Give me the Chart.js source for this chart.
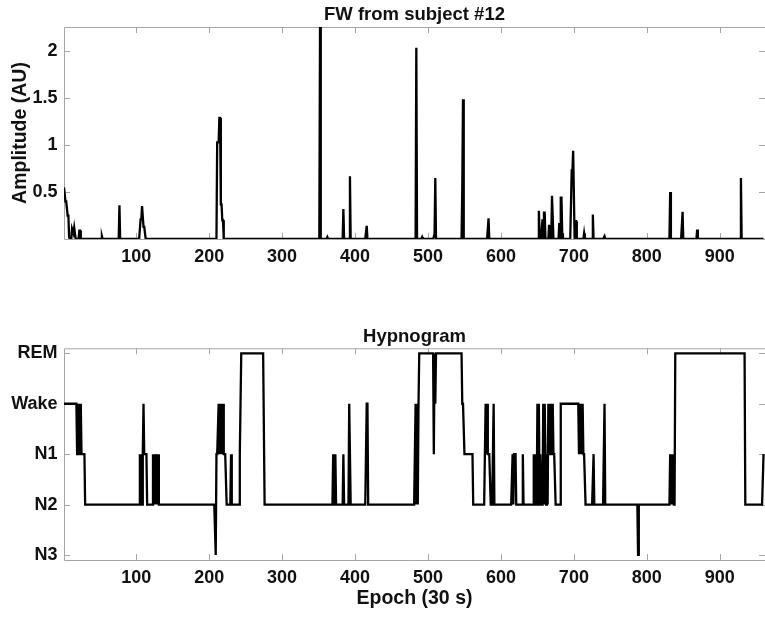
<!DOCTYPE html>
<html>
<head>
<meta charset="utf-8">
<script src="https://cdn.jsdelivr.net/npm/chart.js@4.4.1/dist/chart.umd.min.js"></script>
<style>
  html, body { margin: 0; padding: 0; background: #ffffff; overflow: hidden; }
  .box { position: absolute; left: 0; width: 765px; }
  #wrapTop { top: 0; height: 280px; }
  #wrapBot { top: 300px; height: 320px; }
</style>
</head>
<body>
<div class="box" id="wrapTop"><canvas id="fwChart" width="765" height="280"></canvas></div>
<div class="box" id="wrapBot"><canvas id="hypChart" width="765" height="320"></canvas></div>
<script>
// ---------------- DATA ----------------
const nEpochs = 960;
const xTickValues = [100, 200, 300, 400, 500, 600, 700, 800, 900];

// FW amplitude: epochs with non-zero amplitude and their values (AU); all other epochs are 0
const fwEpochs = [1, 2, 3, 4, 5, 6, 7, 8,
  12, 13, 14, 15, 16, 22, 23, 53, 77,
  106, 107, 108, 109, 110, 111, 112,
  211, 212, 213, 214, 215, 216, 217, 218, 219,
  352, 362, 384, 393, 416, 484, 492, 509, 510, 547, 548, 583,
  652, 653, 657, 659, 660, 666, 667, 670, 671, 680, 682, 683, 684,
  697, 698, 699, 700, 702, 703, 714, 726, 742, 832, 849, 869, 929];
const fwAmps = [0.55, 0.55, 0.40, 0.40, 0.40, 0.25, 0.25, 0.02,
  0.11, 0.11, 0.06, 0.12, 0.12, 0.09, 0.09, 0.03, 0.36,
  0.21, 0.21, 0.35, 0.35, 0.13, 0.13, 0.13,
  1.03, 1.03, 1.03, 1.29, 1.29, 0.37, 0.37, 0.20, 0.20,
  2.26, 0.02, 0.32, 0.67, 0.14, 2.04, 0.02, 0.05, 0.65, 0.55, 1.49, 0.22,
  0.30, 0.05, 0.21, 0.28, 0.28, 0.15, 0.15, 0.46, 0.46, 0.17, 0.44, 0.44, 0.06,
  0.73, 0.73, 0.94, 0.94, 0.19, 0.19, 0.06, 0.26, 0.03, 0.50, 0.29, 0.10, 0.65];
const fwTickValues = [0.5, 1, 1.5, 2];
const fwMax = 2.26;

// Hypnogram: stage codes 1=N3, 2=N2, 3=N1, 4=Wake, 5=REM
const stageLabels = ['N3', 'N2', 'N1', 'Wake', 'REM'];
const stageTickValues = [1, 2, 3, 4, 5];
// run-length: epoch where a stage starts, and that stage
const hypStart = [1, 19, 20, 21, 22, 23, 24, 25, 30,
  105, 106, 107, 108, 109, 110, 111, 115,
  123, 124, 125, 126, 128, 129, 130, 131,
  209, 210, 213, 214, 215, 216, 217, 218, 219, 220, 224, 230, 231, 242, 243, 244, 276,
  370, 371, 373, 374, 384, 385, 392, 394, 416, 418,
  483, 484, 485, 486, 487, 488, 508, 509, 510, 511, 547, 550, 562,
  579, 580, 581, 582, 586, 590, 591, 616, 617, 618, 621, 630, 631,
  645, 646, 647, 648, 650, 651, 652, 653, 654, 655, 658, 659, 660, 661, 662, 663, 664,
  665, 666, 667, 668, 669, 670, 671, 672, 675, 682,
  707, 708, 709, 710, 711, 712, 713, 716, 727, 728, 742, 743, 788, 789,
  832, 833, 834, 835, 836, 837, 839, 935, 960];
const hypStage = [4, 3, 4, 3, 4, 3, 4, 3, 2,
  3, 2, 3, 2, 3, 4, 3, 2,
  3, 2, 3, 2, 3, 2, 3, 2,
  1, 3, 4, 3, 4, 3, 4, 3, 4, 3, 2, 3, 2, 3, 4, 5, 2,
  3, 2, 3, 2, 3, 2, 4, 2, 4, 2,
  4, 2, 4, 2, 4, 5, 3, 5, 4, 5, 4, 3, 2,
  4, 3, 4, 3, 2, 4, 2, 3, 2, 3, 2, 3, 2,
  3, 2, 3, 2, 4, 2, 4, 2, 3, 2, 4, 2, 4, 3, 2, 3, 2,
  4, 3, 4, 3, 4, 3, 4, 3, 2, 4,
  3, 4, 3, 4, 3, 4, 3, 2, 3, 2, 4, 2, 1, 2,
  3, 2, 3, 2, 3, 2, 5, 2, 3];

// ---------------- BUILD SERIES ----------------
const fwSeries = [];
for (let e = 1; e <= nEpochs; e++) {
  const i = fwEpochs.indexOf(e);
  fwSeries.push({ x: e, y: i >= 0 ? fwAmps[i] : 0 });
}
const hypSeries = [];
let k = 0;
for (let e = 1; e <= nEpochs; e++) {
  while (k + 1 < hypStart.length && hypStart[k + 1] <= e) k++;
  hypSeries.push({ x: e, y: hypStage[k] });
}

// ---------------- STYLE ----------------
const FONT = "'Liberation Sans', Arial, Helvetica, sans-serif";
const TXT = '#111111';
const AXIS = '#a6a6a6';
const TICK_SIZE = 18;
const LABEL_SIZE = 19.5;
const TITLE_SIZE = 18.5;

// MATLAB-like box with inward tick marks (drawn beneath the data)
const matlabBox = {
  id: 'matlabBox',
  beforeDatasetsDraw(chart) {
    const { ctx, chartArea: a, scales } = chart;
    ctx.save();
    ctx.strokeStyle = AXIS;
    ctx.lineWidth = 1;
    ctx.beginPath();
    ctx.moveTo(a.left + 0.5, a.top + 0.5);
    ctx.lineTo(a.left + 0.5, a.bottom + 0.5);
    ctx.lineTo(a.right, a.bottom + 0.5);
    ctx.moveTo(a.left + 0.5, a.top + 0.5);
    ctx.lineTo(a.right, a.top + 0.5);
    const tl = 6;
    scales.x.ticks.forEach(t => {
      const px = Math.round(scales.x.getPixelForValue(t.value)) + 0.5;
      ctx.moveTo(px, a.bottom); ctx.lineTo(px, a.bottom - tl);
      ctx.moveTo(px, a.top); ctx.lineTo(px, a.top + tl);
    });
    scales.y.ticks.forEach(t => {
      const py = Math.round(scales.y.getPixelForValue(t.value)) + 0.5;
      ctx.moveTo(a.left, py); ctx.lineTo(a.left + tl, py);
      ctx.moveTo(a.right, py); ctx.lineTo(a.right - tl, py);
    });
    ctx.stroke();
    ctx.restore();
  }
};

function xScale(height, withTitle) {
  return {
    type: 'linear',
    min: 1,
    max: 962,
    afterBuildTicks: s => { s.ticks = xTickValues.map(v => ({ value: v })); },
    ticks: { font: { family: FONT, size: TICK_SIZE, weight: 'bold' }, color: TXT, padding: 7, maxRotation: 0, autoSkip: false,
      callback: v => String(v) },
    grid: { display: false, drawTicks: false },
    border: { display: false },
    title: withTitle ? { display: true, text: 'Epoch (30 s)', color: TXT,
      font: { family: FONT, size: LABEL_SIZE, weight: 'bold' }, padding: { top: 0, bottom: 9.3 } } : { display: false },
    afterFit: s => { s.height = height; }
  };
}

const common = {
  responsive: false,
  animation: false,
  events: [],
  layout: { padding: 0 },
};

new Chart(document.getElementById('fwChart'), {
  type: 'line',
  data: { datasets: [{ data: fwSeries, borderColor: '#000', borderWidth: 2.3, pointRadius: 0, tension: 0, fill: false }] },
  options: Object.assign({}, common, {
    plugins: {
      legend: { display: false }, tooltip: { enabled: false },
      title: { display: true, fullSize: false, text: 'FW from subject #12', color: TXT,
        font: { family: FONT, size: TITLE_SIZE, weight: 'bold' }, padding: { top: 3.9, bottom: 0.9 } }
    },
    scales: {
      x: xScale(41, false),
      y: {
        type: 'linear', min: 0, max: fwMax,
        afterBuildTicks: s => { s.ticks = fwTickValues.map(v => ({ value: v })); },
        ticks: { font: { family: FONT, size: TICK_SIZE, weight: 'bold' }, color: TXT, padding: 6.5, callback: v => String(v) },
        grid: { display: false, drawTicks: false },
        border: { display: false },
        title: { display: true, text: 'Amplitude (AU)', color: TXT,
          font: { family: FONT, size: LABEL_SIZE, weight: 'bold' }, padding: { top: 8.8, bottom: 0 } },
        afterFit: s => { s.width = 64; }
      }
    }
  }),
  plugins: [matlabBox]
});

new Chart(document.getElementById('hypChart'), {
  type: 'line',
  data: { datasets: [{ data: hypSeries, borderColor: '#000', borderWidth: 2.3, pointRadius: 0, tension: 0, fill: false }] },
  options: Object.assign({}, common, {
    plugins: {
      legend: { display: false }, tooltip: { enabled: false },
      title: { display: true, fullSize: false, text: 'Hypnogram', color: TXT,
        font: { family: FONT, size: TITLE_SIZE, weight: 'bold' }, padding: { top: 25.9, bottom: 0.2 } }
    },
    scales: {
      x: xScale(60, true),
      y: {
        type: 'linear', min: 0.9, max: 5.1,
        afterBuildTicks: s => { s.ticks = stageTickValues.map(v => ({ value: v })); },
        ticks: { font: { family: FONT, size: TICK_SIZE, weight: 'bold' }, color: TXT, padding: 6.5,
          callback: v => stageLabels[stageTickValues.indexOf(v)] },
        grid: { display: false, drawTicks: false },
        border: { display: false },
        afterFit: s => { s.width = 64; }
      }
    }
  }),
  plugins: [matlabBox]
});
</script>
</body>
</html>
